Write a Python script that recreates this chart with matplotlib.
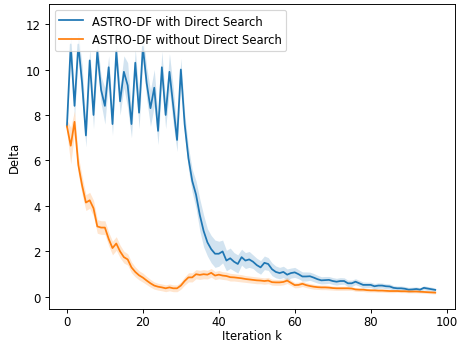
import numpy as np
import matplotlib
matplotlib.use('Agg')
import matplotlib.pyplot as plt

# mean Delta per iteration
with_ds = [7.5, 11.1, 8.4, 11.1, 9.4, 7.1, 10.4, 8.0, 10.8, 9.1,
           8.4, 10.1, 7.6, 10.8, 8.6, 9.9, 9.3, 7.6, 10.3, 8.1,
           11.0, 9.4, 8.3, 9.2, 7.3, 10.1, 8.0, 9.9, 8.4, 6.9,
           10.0, 7.6, 6.1, 5.1, 4.5, 3.6, 2.9, 2.4, 2.1, 1.9,
           1.9, 2.0, 1.6, 1.7, 1.55, 1.45, 1.75, 1.6, 1.65, 1.55,
           1.4, 1.3, 1.5, 1.45, 1.22, 1.1, 1.05, 1.1, 0.98, 1.05,
           1.08, 1.0, 0.9, 0.9, 0.91, 0.85, 0.78, 0.73, 0.74, 0.75,
           0.7, 0.67, 0.7, 0.7, 0.6, 0.6, 0.67, 0.6, 0.53, 0.53,
           0.53, 0.47, 0.5, 0.5, 0.47, 0.46, 0.4, 0.38, 0.38, 0.36,
           0.32, 0.33, 0.35, 0.32, 0.4, 0.37, 0.34, 0.31]
with_ds_hw = [0.3, 0.4, 0.5, 0.5, 0.8, 0.5, 0.5, 0.6, 0.5, 0.6,
              0.8, 0.5, 0.5, 0.4, 0.6, 0.7, 1.0, 0.6, 0.6, 0.7,
              0.6, 0.7, 0.8, 0.8, 0.6, 0.7, 0.6, 0.8, 0.8, 0.5,
              0.5, 0.5, 0.5, 0.5, 0.6, 0.7, 0.7, 0.6, 0.6, 0.6,
              0.55, 0.5, 0.45, 0.45, 0.4, 0.4, 0.35, 0.35, 0.35, 0.3,
              0.3, 0.3, 0.3, 0.28, 0.28, 0.26, 0.25, 0.25, 0.25, 0.22,
              0.22, 0.2, 0.2, 0.2, 0.18, 0.18, 0.17, 0.16, 0.16, 0.15,
              0.15, 0.15, 0.15, 0.14, 0.14, 0.14, 0.13, 0.13, 0.13, 0.12,
              0.12, 0.12, 0.12, 0.11, 0.11, 0.11, 0.1, 0.1, 0.1, 0.1,
              0.1, 0.1, 0.09, 0.09, 0.09, 0.09, 0.09, 0.08]

without_ds = [7.5, 6.65, 7.7, 5.8, 4.9, 4.15, 4.25, 3.9, 3.1, 3.05,
              3.05, 2.55, 2.15, 2.35, 2.0, 1.75, 1.65, 1.3, 1.1, 0.95,
              0.85, 0.72, 0.6, 0.5, 0.45, 0.42, 0.38, 0.42, 0.38, 0.38,
              0.5, 0.7, 0.86, 0.86, 1.0, 0.97, 1.0, 0.98, 1.06, 0.94,
              0.98, 0.94, 0.92, 0.87, 0.86, 0.84, 0.82, 0.79, 0.77, 0.75,
              0.73, 0.72, 0.7, 0.72, 0.65, 0.64, 0.64, 0.66, 0.72, 0.62,
              0.52, 0.53, 0.58, 0.52, 0.48, 0.45, 0.43, 0.42, 0.42, 0.41,
              0.39, 0.38, 0.38, 0.38, 0.38, 0.37, 0.33, 0.32, 0.32, 0.3,
              0.29, 0.29, 0.28, 0.28, 0.27, 0.26, 0.26, 0.26, 0.25, 0.25,
              0.24, 0.24, 0.24, 0.23, 0.22, 0.21, 0.2, 0.19]
without_ds_hw = [0.3, 0.8, 0.5, 0.4, 0.4, 0.35, 0.35, 0.35, 0.3, 0.3,
                 0.3, 0.3, 0.3, 0.3, 0.28, 0.26, 0.25, 0.24, 0.22, 0.2,
                 0.2, 0.18, 0.17, 0.16, 0.15, 0.15, 0.15, 0.15, 0.15, 0.15,
                 0.16, 0.18, 0.2, 0.2, 0.2, 0.2, 0.2, 0.19, 0.19, 0.18,
                 0.18, 0.17, 0.17, 0.17, 0.16, 0.16, 0.16, 0.15, 0.15, 0.15,
                 0.15, 0.14, 0.14, 0.14, 0.13, 0.13, 0.13, 0.13, 0.13, 0.12,
                 0.12, 0.12, 0.12, 0.11, 0.11, 0.11, 0.1, 0.1, 0.1, 0.1,
                 0.09, 0.09, 0.09, 0.09, 0.09, 0.08, 0.08, 0.08, 0.08, 0.08,
                 0.07, 0.07, 0.07, 0.07, 0.07, 0.07, 0.07, 0.06, 0.06, 0.06,
                 0.06, 0.06, 0.06, 0.06, 0.06, 0.06, 0.06, 0.06]

k = np.arange(len(with_ds))

DPI = 84
fig = plt.figure(figsize=(459 / DPI, 345 / DPI), dpi=DPI)
ax = fig.add_axes([48.7 / 459, 1 - 310 / 345, (455 - 48.7) / 459, (310 - 5) / 345])

for vals, hw, color, label in [
        (with_ds, with_ds_hw, 'C0', 'ASTRO-DF with Direct Search'),
        (without_ds, without_ds_hw, 'C1', 'ASTRO-DF without Direct Search')]:
    vals = np.array(vals)
    hw = np.array(hw)
    ax.plot(k, vals, color=color, linewidth=1.5, label=label)
    ax.fill_between(k, vals - hw, vals + hw, color=color, alpha=0.2, linewidth=0)

ax.set_xlim(-4.8, 102.2)
ax.set_ylim(-0.53, 12.88)
ax.tick_params(axis='x', pad=2)
ax.set_xlabel('Iteration k', labelpad=0.5)
ax.set_ylabel('Delta')
ax.legend(loc='upper left')

fig.savefig('out.png', dpi=DPI)
